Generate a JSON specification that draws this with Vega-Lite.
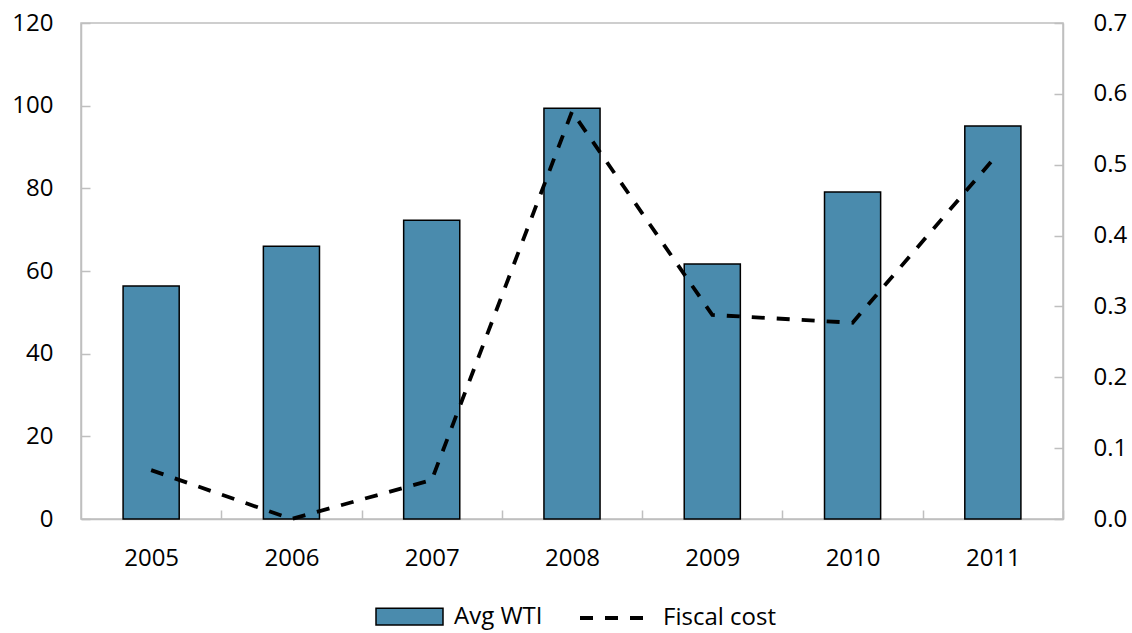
{
  "$schema": "https://vega.github.io/schema/vega-lite/v6.json",
  "width": 982,
  "height": 496,
  "autosize": {"type": "none"},
  "padding": {"left": 81, "top": 23, "right": 69, "bottom": 114},
  "background": "white",
  "config": {
    "font": "Open Sans",
    "view": {"stroke": "#BFBFBF", "strokeWidth": 1.5},
    "axis": {
      "grid": false,
      "title": null,
      "ticks": true,
      "zindex": 1,
      "domainColor": "#BFBFBF",
      "domainWidth": 1.5,
      "tickColor": "#BFBFBF",
      "tickWidth": 1.5,
      "tickSize": -9,
      "labelColor": "black",
      "labelFontSize": 24,
      "labelFont": "Open Sans"
    },
    "legend": {
      "labelFontSize": 24,
      "labelColor": "black",
      "labelFont": "Open Sans",
      "padding": 0,
      "title": null
    }
  },
  "data": {
    "values": [
      {"year": "2005", "wti": 56.4, "cost": 0.069},
      {"year": "2006", "wti": 66.0, "cost": 0.0},
      {"year": "2007", "wti": 72.3, "cost": 0.055},
      {"year": "2008", "wti": 99.4, "cost": 0.575},
      {"year": "2009", "wti": 61.7, "cost": 0.288},
      {"year": "2010", "wti": 79.1, "cost": 0.277},
      {"year": "2011", "wti": 95.1, "cost": 0.507}
    ]
  },
  "layer": [
    {
      "mark": {"type": "bar", "stroke": "black", "strokeWidth": 1.5},
      "encoding": {
        "x": {
          "field": "year",
          "type": "ordinal",
          "scale": {"paddingInner": 0.6, "paddingOuter": 0.3},
          "axis": {"labelAngle": 0, "bandPosition": 0.5, "tickOffset": 70.14, "labelOffset": -70.14, "labelPadding": 36}
        },
        "y": {
          "field": "wti",
          "type": "quantitative",
          "scale": {"domain": [0, 120]},
          "axis": {"orient": "left", "values": [0, 20, 40, 60, 80, 100, 120], "labelPadding": 37}
        },
        "fill": {
          "datum": "Avg WTI",
          "type": "nominal",
          "scale": {"range": ["#4A8BAD"]},
          "legend": {
            "orient": "none",
            "legendX": 294,
            "legendY": 559,
            "symbolType": "M-1,-0.25H1V0.25H-1Z",
            "symbolSize": 4489,
            "symbolStrokeColor": "black",
            "symbolStrokeWidth": 1.5,
            "symbolOpacity": 1,
            "labelOffset": 10
          }
        }
      }
    },
    {
      "mark": {"type": "line", "color": "black", "strokeWidth": 3.8},
      "encoding": {
        "x": {"field": "year", "type": "ordinal"},
        "y": {
          "field": "cost",
          "type": "quantitative",
          "scale": {"domain": [0, 0.7]},
          "axis": {"orient": "right", "values": [0, 0.1, 0.2, 0.3, 0.4, 0.5, 0.6, 0.7], "format": ".1f", "labelPadding": 39}
        },
        "strokeDash": {
          "datum": "Fiscal cost",
          "type": "nominal",
          "scale": {"range": [[13, 12]]},
          "legend": {
            "orient": "none",
            "legendX": 497,
            "legendY": 557,
            "symbolType": "stroke",
            "symbolSize": 5184,
            "symbolStrokeColor": "black",
            "symbolStrokeWidth": 3.8,
            "labelOffset": 9
          }
        }
      }
    }
  ],
  "resolve": {"scale": {"y": "independent", "fill": "independent", "strokeDash": "independent"}}
}
